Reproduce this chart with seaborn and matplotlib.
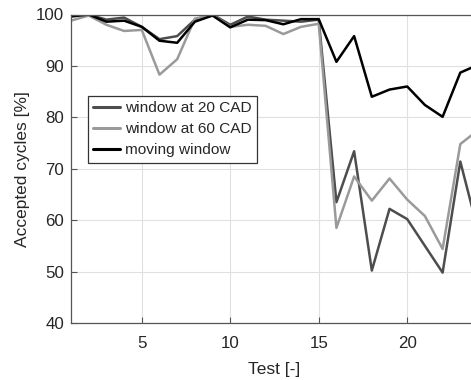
import matplotlib
matplotlib.use("Agg")
import matplotlib.pyplot as plt
import seaborn as sns
import pandas as pd

tests = list(range(1, 25))
win20 = [100.0, 100.0, 99.0, 99.4, 97.6, 95.2, 95.8, 99.0, 100.0, 98.0, 99.6, 99.0,
         98.8, 98.6, 99.0, 63.5, 73.4, 50.2, 62.2, 60.2, 55.0, 49.8, 71.4, 58.0]
win60 = [98.8, 99.8, 98.0, 96.8, 97.0, 88.3, 91.3, 99.2, 99.9, 97.6, 98.0, 97.8,
         96.2, 97.6, 98.2, 58.5, 68.5, 63.8, 68.1, 64.0, 60.8, 54.4, 74.8, 77.5]
moving = [99.6, 100.0, 98.6, 98.8, 97.6, 94.9, 94.5, 98.6, 99.8, 97.5, 99.0, 98.9,
          98.1, 99.1, 99.1, 90.8, 95.8, 84.0, 85.4, 86.0, 82.4, 80.1, 88.7, 90.2]
labels = ["window at 20 CAD", "window at 60 CAD", "moving window"]

df = pd.DataFrame({
    "Test": tests * 3,
    "Accepted": win20 + win60 + moving,
    "Method": [labels[0]] * 24 + [labels[1]] * 24 + [labels[2]] * 24,
})

sns.set_theme(style="ticks")
plt.rcParams['font.family'] = ['Liberation Sans', 'DejaVu Sans']

fig = plt.figure(figsize=(4.71, 3.80), dpi=100)
ax = fig.add_axes([71 / 471, 57 / 380, 407 / 471, 308.5 / 380])

palette = {labels[0]: "#4d4d4d", labels[1]: "#9a9a9a", labels[2]: "#000000"}
sns.lineplot(data=df, x="Test", y="Accepted", hue="Method", palette=palette,
             linewidth=1.8, ax=ax, legend=True)

ax.set_xlim(1, 24)
ax.set_ylim(40, 100)
ax.set_xticks([5, 10, 15, 20])
ax.set_yticks([40, 50, 60, 70, 80, 90, 100])
ax.grid(True, color="#e0e0e0", linewidth=0.8)
ax.set_axisbelow(True)

axcol = "#262626"
for side in ["left", "bottom", "top"]:
    ax.spines[side].set_visible(True)
    ax.spines[side].set_color("#555555")
    ax.spines[side].set_linewidth(0.9)
ax.spines["right"].set_visible(False)
ax.tick_params(direction="in", length=4, width=0.8, color="#555555",
               labelsize=12.2, labelcolor=axcol, top=False, right=False)
ax.tick_params(axis="x", pad=9)
ax.tick_params(axis="y", pad=5)

ax.set_xlabel("Test [-]", fontsize=12.5, color=axcol, labelpad=8)
ax.set_ylabel("Accepted cycles [%]", fontsize=12.5, color=axcol, labelpad=4)

leg = ax.legend(loc="upper left", bbox_to_anchor=(17 / 407, 227 / 308.5),
                borderaxespad=0, fancybox=False, framealpha=1,
                edgecolor="#333333", fontsize=11.1, handlelength=1.75,
                handletextpad=0.3, borderpad=0.35, labelspacing=0.45, title=None)
leg.get_frame().set_linewidth(0.9)
for line in leg.get_lines():
    line.set_linewidth(2.2)

fig.savefig("out.png", dpi=100)
